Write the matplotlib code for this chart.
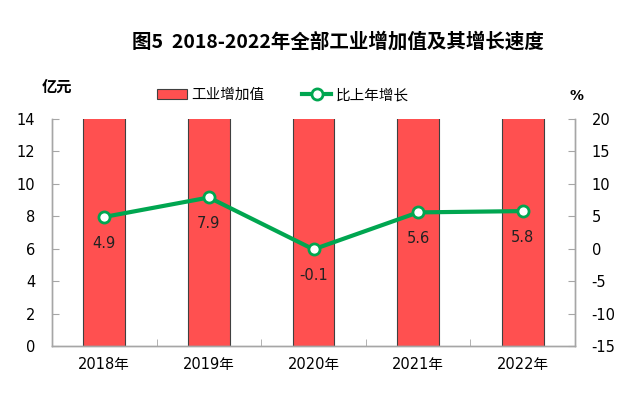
import matplotlib
matplotlib.use("Agg")
import matplotlib.pyplot as plt
import numpy as np
from matplotlib.lines import Line2D
from matplotlib.patches import Patch

plt.rcParams['font.family'] = ['DejaVu Sans', 'Noto Sans CJK SC']
plt.rcParams['axes.unicode_minus'] = False

years = ['2018年', '2019年', '2020年', '2021年', '2022年']
# bars exceed the visible axis range (clipped at 14 in the reference)
value_added = [20, 20, 20, 20, 20]
growth = [4.9, 7.9, -0.1, 5.6, 5.8]
growth_labels = ['4.9', '7.9', '-0.1', '5.6', '5.8']

fig = plt.figure(figsize=(6.3, 3.98), dpi=100)
ax = fig.add_axes([52/630, 52/398, (575-52)/630, (346-119)/398])
ax2 = ax.twinx()

x = np.arange(len(years))
ax.bar(x, value_added, width=0.4, color='#ff5050', edgecolor='#404040', linewidth=0.8, zorder=2)
ax.set_xlim(-0.5, len(years) - 0.5)
ax.set_ylim(0, 14)
ax.set_yticks(range(0, 15, 2))

ax2.plot(x, growth, color='#00a650', linewidth=3, marker='o', markersize=8,
         markerfacecolor='white', markeredgecolor='#00a650', markeredgewidth=2, zorder=3)
ax2.set_ylim(-15, 20)
ax2.set_yticks(range(-15, 21, 5))
for xi, g, lab in zip(x, growth, growth_labels):
    ax2.annotate(lab, (xi, g), xytext=(0, -19), textcoords='offset points',
                 ha='center', va='center', fontsize=10.5, color='#222222')

spine_c = '#a6a6a6'
for a in (ax, ax2):
    a.spines['top'].set_visible(False)
    for s in ('left', 'right', 'bottom'):
        a.spines[s].set_color(spine_c)
        a.spines[s].set_linewidth(1.0)

ax.set_xticks(x)
ax.set_xticklabels(years, fontsize=10.5)
ax.set_xticks(np.arange(-0.5, len(years), 1.0), minor=True)
ax.tick_params(axis='x', which='major', length=0, pad=8)
ax.tick_params(axis='x', which='minor', length=5, direction='in', color=spine_c)
ax.tick_params(axis='y', direction='in', length=5, color=spine_c, labelsize=10.5, pad=12)
ax2.tick_params(axis='y', direction='in', length=5, color=spine_c, labelsize=10.5, pad=12)

fig.text(338/630, 1 - 42/398, '图5  2018-2022年全部工业增加值及其增长速度',
         ha='center', va='center', fontsize=14, fontweight='bold',
         family=['Noto Sans CJK SC'])
fig.text(57/630, 1 - 87/398, '亿元', ha='center', va='center', fontsize=11,
         fontweight='bold', family=['Noto Sans CJK SC'])
fig.text(576/630, 1 - 96/398, '%', ha='center', va='center', fontsize=10,
         fontweight='bold')

handles = [Patch(facecolor='#ff5050', edgecolor='#404040', linewidth=0.8),
           Line2D([0], [0], color='#00a650', linewidth=3, marker='o', markersize=8,
                  markerfacecolor='white', markeredgecolor='#00a650', markeredgewidth=2)]
fig.legend(handles, ['工业增加值', '比上年增长'], loc='center',
           bbox_to_anchor=(283/630, 1 - 95/398), ncol=2, frameon=False,
           prop={'family': ['Noto Sans CJK SC'], 'size': 10.5},
           handlelength=2.0, handletextpad=0.3, columnspacing=2.6)

fig.savefig('out.png', dpi=100)
